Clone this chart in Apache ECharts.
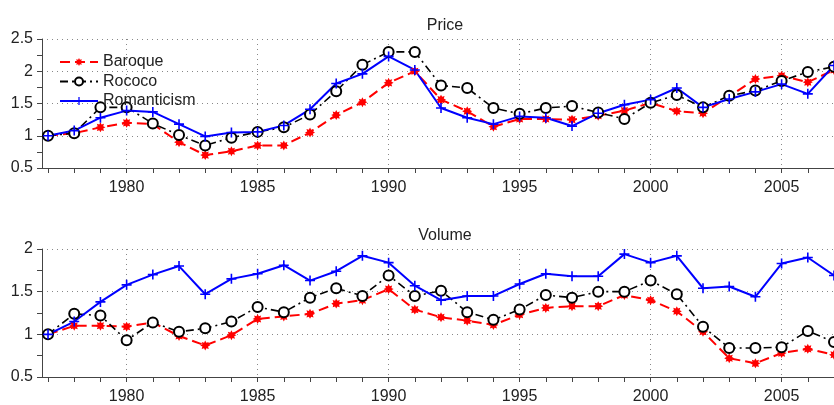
<!DOCTYPE html>
<html>
<head>
<meta charset="utf-8">
<script src="https://cdn.jsdelivr.net/npm/echarts@6/dist/echarts.min.js"></script>
<style>html,body{margin:0;padding:0;background:#fff}#c{width:834px;height:405px}</style>
</head>
<body>
<div id="c"></div>
<script>
var years = [];
for (var y = 1977; y <= 2007; y++) years.push(y);
var xLabelYears = [1980, 1985, 1990, 1995, 2000, 2005];

var priceBaroque = [1.00,1.04,1.13,1.20,1.18,0.90,0.70,0.76,0.85,0.85, 1.05,1.32,1.52,1.82,2.00,1.56,1.38,1.14,1.26,1.26, 1.25,1.31,1.39,1.51,1.38,1.35,1.61,1.88,1.93,1.83,2.02];
var priceRococo = [1.00,1.04,1.44,1.44,1.19,1.01,0.85,0.97,1.06,1.13, 1.33,1.69,2.10,2.30,2.30,1.78,1.74,1.43,1.34,1.43, 1.46,1.36,1.26,1.51,1.63,1.44,1.62,1.70,1.85,1.99,2.07];
var priceRomanticism = [1.00,1.08,1.28,1.39,1.37,1.18,0.99,1.05,1.06,1.16, 1.41,1.81,1.96,2.23,2.02,1.43,1.28,1.18,1.30,1.28, 1.15,1.35,1.48,1.56,1.74,1.44,1.57,1.68,1.80,1.65,2.09];

var volBaroque = [1.00,1.10,1.10,1.09,1.14,0.98,0.87,0.99,1.18,1.21, 1.24,1.36,1.40,1.53,1.29,1.20,1.16,1.11,1.23,1.31, 1.33,1.33,1.46,1.40,1.27,1.03,0.72,0.66,0.78,0.83,0.76];
var volRococo = [1.00,1.24,1.22,0.93,1.14,1.03,1.07,1.15,1.32,1.26, 1.43,1.54,1.45,1.69,1.45,1.51,1.26,1.17,1.29,1.46, 1.43,1.50,1.50,1.63,1.47,1.09,0.84,0.84,0.85,1.04,0.91];
var volRomanticism = [1.00,1.15,1.38,1.58,1.70,1.80,1.47,1.65,1.71,1.81, 1.63,1.74,1.92,1.84,1.57,1.40,1.45,1.45,1.59,1.71, 1.68,1.68,1.94,1.84,1.92,1.54,1.56,1.44,1.83,1.90,1.69];

var seriesNames = ['Baroque', 'Rococo', 'Romanticism'];
var titles = ['Price', 'Volume'];

function pairs(vals) { return years.map(function (yr, i) { return [yr, vals[i]]; }); }

var FONT = '"Liberation Sans", Arial, sans-serif';
var TXT = '#222';
var AX = '#444';
var XMIN = 1976.77, XMAX = 2007.0;

var starPath = 'path://M10,5L7.8,6.15L8.54,8.54L6.15,7.8L5,10L3.85,7.8L1.46,8.54L2.2,6.15L0,5L2.2,3.85L1.46,1.46L3.85,2.2L5,0L6.15,2.2L8.54,1.46L7.8,3.85Z';
var plusPath = 'path://M4.2,0H5.8V4.2H10V5.8H5.8V10H4.2V5.8H0V4.2H4.2Z';

var styles = [
  { color: '#ff0000', type: [10, 5], width: 2, symbol: starPath, size: 10, itemStyle: { color: '#ff0000' } },
  { color: '#000000', type: [8, 4, 2, 4], width: 1.6, symbol: 'emptyCircle', size: 10, itemStyle: { color: '#000', borderColor: '#000', borderWidth: 1.6 } },
  { color: '#0000ff', type: 'solid', width: 2, symbol: plusPath, size: 10, itemStyle: { color: '#0000ff' } }
];

var grids = [
  { left: 42, right: 0, top: 39, height: 129 },
  { left: 42, right: 0, top: 249, height: 129 }
];

function yearFmt(v) { return String(Math.round(v)); }

function visXAxis(gi) {
  return {
    type: 'value', gridIndex: gi, min: XMIN, max: XMAX, position: 'bottom',
    axisLine: { show: true, lineStyle: { color: AX, width: 1 } },
    axisTick: { show: true, length: 5, inside: false, customValues: years, lineStyle: { color: AX } },
    axisLabel: { show: true, customValues: xLabelYears, formatter: yearFmt, margin: 12, color: TXT, fontSize: 16, fontFamily: FONT },
    splitLine: { show: false }
  };
}
function gridXAxis(gi) {
  return {
    type: 'value', gridIndex: gi, min: XMIN, max: XMAX, position: 'bottom',
    axisLine: { show: false },
    axisTick: { show: false, customValues: xLabelYears },
    axisLabel: { show: false },
    splitLine: { show: true, lineStyle: { color: '#888', type: [1, 4], width: 1 } }
  };
}
function yAxisFor(gi, max) {
  return {
    type: 'value', gridIndex: gi, min: 0.5, max: max, interval: 0.5,
    axisLine: { show: true, lineStyle: { color: AX, width: 1 } },
    axisTick: { show: true, length: 5, lineStyle: { color: AX } },
    minorTick: { show: true, splitNumber: 2, length: 5, lineStyle: { color: AX } },
    axisLabel: { margin: 9, color: TXT, fontSize: 16, fontFamily: FONT },
    splitLine: { show: true, lineStyle: { color: '#888', type: [1, 4], width: 1 } }
  };
}

var data = [[priceBaroque, priceRococo, priceRomanticism], [volBaroque, volRococo, volRomanticism]];
var series = [];
[0, 1].forEach(function (gi) {
  data[gi].forEach(function (vals, si) {
    var st = styles[si];
    series.push({
      type: 'line', name: seriesNames[si],
      xAxisIndex: gi * 2, yAxisIndex: gi,
      data: pairs(vals),
      symbol: st.symbol, symbolSize: st.size, showAllSymbol: true,
      lineStyle: { color: st.color, type: st.type, width: st.width },
      itemStyle: st.itemStyle,
      emphasis: { disabled: true },
      animation: false
    });
  });
});

var chart = echarts.init(document.getElementById('c'), null, { renderer: 'canvas' });
chart.setOption({
  backgroundColor: '#fff',
  animation: false,
  title: [
    { text: titles[0], left: 440, top: 13, textAlign: 'center', textStyle: { fontSize: 16, fontWeight: 'normal', color: TXT, fontFamily: FONT } },
    { text: titles[1], left: 440, top: 223, textAlign: 'center', textStyle: { fontSize: 16, fontWeight: 'normal', color: TXT, fontFamily: FONT } }
  ],
  legend: {
    data: seriesNames, orient: 'vertical', left: 54, top: 49,
    itemWidth: 38, itemHeight: 10, itemGap: 3.5,
    textStyle: { fontSize: 16, color: TXT, fontFamily: FONT },
    selectedMode: false
  },
  grid: grids,
  xAxis: [visXAxis(0), gridXAxis(0), visXAxis(1), gridXAxis(1)],
  yAxis: [yAxisFor(0, 2.5), yAxisFor(1, 2)],
  series: series
});
</script>
</body>
</html>
